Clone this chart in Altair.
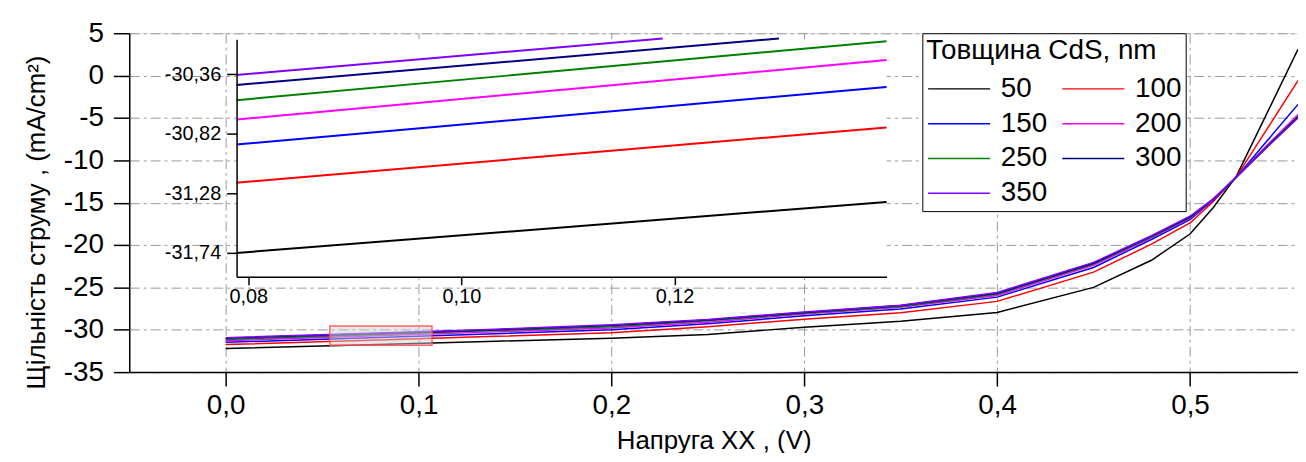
import altair as alt
import pandas as pd

FONT = "Liberation Sans"

# ---------------- data ----------------
SERIES = ["50", "100", "150", "200", "250", "300", "350"]
COLORS = ["#000000", "#ff0000", "#0000ff", "#ff00ff", "#008000", "#000080", "#8000ff"]

# main plot: voltage (V) and current density (mA/cm^2) for each CdS thickness
V_MAIN = [0.0, 0.079, 0.14, 0.2, 0.25, 0.3, 0.35, 0.4, 0.45, 0.48, 0.5, 0.512, 0.524, 0.54, 0.556]
J_50 = [-32.2, -31.75, -31.35, -31.0, -30.55, -29.7, -29.0, -27.95, -25.0, -21.8, -18.7, -15.6, -11.9, -4.4, 3.1]
J_100 = [-31.75, -31.2, -30.78, -30.35, -29.65, -28.75, -28.0, -26.65, -23.2, -19.9, -17.4, -14.9, -11.95, -6.3, -0.6]
J_150 = [-31.48, -30.9, -30.46, -30.0, -29.3, -28.35, -27.55, -26.15, -22.65, -19.35, -17.0, -14.7, -12.0, -7.7, -3.4]
J_200 = [-31.3, -30.71, -30.25, -29.8, -29.1, -28.15, -27.35, -25.95, -22.4, -19.15, -16.85, -14.65, -12.0, -8.2, -4.6]
J_250 = [-31.15, -30.56, -30.1, -29.65, -28.95, -28.05, -27.25, -25.8, -22.25, -19.05, -16.75, -14.6, -12.0, -8.3, -4.8]
J_300 = [-31.0, -30.44, -30.0, -29.5, -28.85, -27.95, -27.15, -25.7, -22.15, -18.95, -16.7, -14.6, -12.0, -8.4, -4.9]
J_350 = [-30.93, -30.37, -29.93, -29.4, -28.78, -27.9, -27.1, -25.6, -22.05, -18.9, -16.6, -14.55, -12.0, -8.45, -5.0]

# inset (zoomed view): start and end point of each line as drawn
INSET_V_START = [0.0789, 0.0789, 0.0789, 0.0789, 0.0789, 0.0789, 0.0789]
INSET_V_END = [0.1399, 0.1399, 0.1399, 0.1399, 0.1399, 0.1298, 0.1189]
INSET_J_START = [-31.743, -31.199, -30.904, -30.71, -30.56, -30.442, -30.365]
INSET_J_END = [-31.348, -30.771, -30.458, -30.25, -30.104, -30.083, -30.083]

# inset axes domain and tick values
INSET_X_DOMAIN = [0.0789, 0.1399]
INSET_Y_DOMAIN = [-31.927, -30.088]
INSET_X_TICKS = [0.08, 0.10, 0.12]
INSET_Y_TICKS = [-31.74, -31.28, -30.82, -30.36]

# red zoom marker rectangle on the main plot
ZOOM_BOX_V = [0.054, 0.107]
ZOOM_BOX_J = [-31.83, -29.57]

MAIN_X_TICKS = [0.0, 0.1, 0.2, 0.3, 0.4, 0.5]
MAIN_Y_TICKS = [-35, -30, -25, -20, -15, -10, -5, 0, 5]

# ---------------- tables ----------------
J_ALL = [J_50, J_100, J_150, J_200, J_250, J_300, J_350]
main_rows = []
for s, js in zip(SERIES, J_ALL):
    for v, j in zip(V_MAIN, js):
        main_rows.append({"t": s, "V": v, "J": j})
main_df = pd.DataFrame(main_rows)

inset_rows = []
for i, s in enumerate(SERIES):
    inset_rows.append({"t": s, "Vi": INSET_V_START[i], "Ji": INSET_J_START[i], "o": 0})
    inset_rows.append({"t": s, "Vi": INSET_V_END[i], "Ji": INSET_J_END[i], "o": 1})
inset_df = pd.DataFrame(inset_rows)

zoom_df = pd.DataFrame([{"V": ZOOM_BOX_V[0], "V2": ZOOM_BOX_V[1], "J": ZOOM_BOX_J[0], "J2": ZOOM_BOX_J[1]}])
inset_bg_df = pd.DataFrame([{"Vi": INSET_X_DOMAIN[0], "Vi2": INSET_X_DOMAIN[1],
                             "Ji": INSET_Y_DOMAIN[0], "Ji2": INSET_Y_DOMAIN[1]}])

# ---------------- main plot ----------------
X_TITLE = "Напруга XX , (V)"
Y_TITLE = "Щільність струму , (mA/cm²)"
GRID_DASH = [10, 4, 3, 4]

x_axis = alt.Axis(
    orient="bottom", values=MAIN_X_TICKS, title=X_TITLE,
    labelExpr="replace(format(datum.value, '.1f'), '.', ',')",
    grid=True, gridDash=GRID_DASH, gridColor="#9a9a9a", gridWidth=1,
    tickSize=14, tickWidth=1.5, tickColor="black", domainColor="black", domainWidth=1.5,
    labelFont=FONT, labelFontSize=28, labelColor="black", labelPadding=6,
    titleFont=FONT, titleFontSize=26, titleFontWeight="normal", titleColor="black", titlePadding=8,
)
y_axis = alt.Axis(
    orient="left", values=MAIN_Y_TICKS, title=Y_TITLE,
    labelExpr="'' + datum.value",
    grid=True, gridDash=GRID_DASH, gridColor="#9a9a9a", gridWidth=1,
    tickSize=16, tickWidth=1.5, tickColor="black", domainColor="black", domainWidth=1.5,
    labelFont=FONT, labelFontSize=28, labelColor="black", labelPadding=10,
    titleFont=FONT, titleFontSize=26, titleFontWeight="normal", titleColor="black", titlePadding=14,
    titleY=190,
)
x_main = alt.X("V:Q", scale=alt.Scale(domain=[-0.05, 0.556], nice=False, zero=False), axis=x_axis)
y_main = alt.Y("J:Q", scale=alt.Scale(domain=[-35, 5], nice=False, zero=False), axis=y_axis)

legend = alt.Legend(
    title="Товщина CdS, nm", orient="none", legendX=798, legendY=0, columns=2,
    direction="horizontal",
    symbolType="M-2.6,0H2.6", symbolSize=576, symbolStrokeWidth=1.5, symbolOffset=19,
    labelOffset=28, columnPadding=11, rowPadding=7, padding=4, titlePadding=10,
    labelFont=FONT, labelFontSize=28, labelColor="black",
    titleFont=FONT, titleFontSize=28, titleFontWeight="normal", titleColor="black",
    strokeColor="black", fillColor="white", labelLimit=200, titleLimit=400,
)
color = alt.Color("t:N", scale=alt.Scale(domain=SERIES, range=COLORS), legend=legend)

main_lines = alt.Chart(main_df).mark_line(strokeWidth=1.5).encode(
    x=x_main, y=y_main, color=color, order="V:Q"
)
zoom_box = alt.Chart(zoom_df).mark_rect(
    fill="#d0d0d0", fillOpacity=0.5, stroke="#ff4a4a", strokeOpacity=0.85, strokeWidth=1.5
).encode(
    x=alt.X("V:Q", title=X_TITLE), x2="V2", y=alt.Y("J:Q", title=Y_TITLE), y2="J2"
)
main_layer = alt.layer(main_lines, zoom_box)

# ---------------- inset ----------------
xi_axis = alt.Axis(
    orient="bottom", offset=-96, values=INSET_X_TICKS, title=None, grid=False,
    labelExpr="replace(format(datum.value, '.2f'), '.', ',')",
    tickSize=8, tickWidth=1.5, tickColor="black", domainColor="black", domainWidth=1.5,
    labelFont=FONT, labelFontSize=20, labelColor="black", labelPadding=2, zindex=1,
)
yi_axis = alt.Axis(
    orient="left", offset=-108, values=INSET_Y_TICKS, title=None, grid=False,
    labelExpr="replace('' + datum.value, '.', ',')",
    tickSize=10, tickWidth=1.5, tickColor="black", domainColor="black", domainWidth=1.5,
    labelFont=FONT, labelFontSize=20, labelColor="black", labelPadding=6, zindex=1,
)
x_in = alt.X("Vi:Q", scale=alt.Scale(domain=INSET_X_DOMAIN, range=[108, 762], nice=False, zero=False), axis=xi_axis)
y_in = alt.Y("Ji:Q", scale=alt.Scale(domain=INSET_Y_DOMAIN, range=[245, 6], nice=False, zero=False), axis=yi_axis)

inset_bg = alt.Chart(inset_bg_df).mark_rect(fill="white").encode(
    x=x_in, x2="Vi2", y=y_in, y2="Ji2"
)
inset_lines = alt.Chart(inset_df).mark_line(strokeWidth=2).encode(
    x="Vi:Q", y="Ji:Q", order="o:Q",
    color=alt.Color("t:N", scale=alt.Scale(domain=SERIES, range=COLORS), legend=None),
)
inset_layer = alt.layer(inset_bg, inset_lines)

chart = alt.layer(main_layer, inset_layer).resolve_scale(
    x="independent", y="independent"
).properties(
    width=1176, height=341,
    autosize=alt.AutoSizeParams(type="none"),
    padding={"left": 122, "top": 24, "right": 0, "bottom": 80},
).configure_view(stroke=None).configure(background="white")

chart.save("out.html", embed_options={"renderer": "svg", "actions": False})
